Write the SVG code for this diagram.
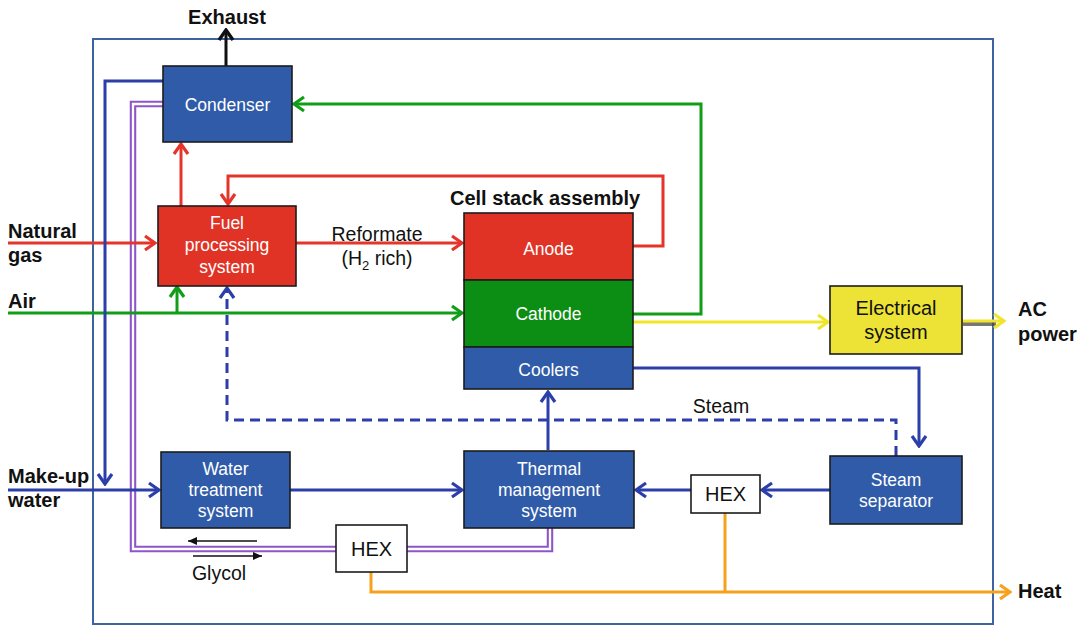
<svg xmlns="http://www.w3.org/2000/svg" width="1090" height="628" viewBox="0 0 1090 628">
  <style>
    .box { stroke: #1c1c1c; stroke-width: 1.6; }
    .blue { fill: #2f5ba9; }
    .red { fill: #e03326; }
    .green { fill: #0b8e13; }
    .yellow { fill: #ece336; }
    .white { fill: #ffffff; }
    .lbl { font-family: "Liberation Sans", Arial, sans-serif; font-size: 17.5px; fill: #ffffff; text-anchor: middle; }
    .lbl-dark { font-family: "Liberation Sans", Arial, sans-serif; font-size: 20px; fill: #111111; text-anchor: middle; }
    .note { font-family: "Liberation Sans", Arial, sans-serif; font-size: 19.5px; fill: #111111; }
    .bold { font-family: "Liberation Sans", Arial, sans-serif; font-size: 20px; font-weight: bold; fill: #111111; }
    .ln { fill: none; stroke-width: 3; }
    .c-red { stroke: #e5352b; }
    .c-green { stroke: #129d18; }
    .c-blue { stroke: #2c3fa8; }
    .c-yellow { stroke: #f0e52a; }
    .c-orange { stroke: #f7a01c; }
    .c-black { stroke: #111111; }
  </style>
  <defs>
    <marker id="ar-red" viewBox="-13 -10 15 20" markerWidth="15" markerHeight="20" refX="0" refY="0" orient="auto" markerUnits="userSpaceOnUse">
      <path d="M-10,-7 L0,0 L-10,7" fill="none" stroke="#e5352b" stroke-width="3.2"/>
    </marker>
    <marker id="ar-green" viewBox="-13 -10 15 20" markerWidth="15" markerHeight="20" refX="0" refY="0" orient="auto" markerUnits="userSpaceOnUse">
      <path d="M-10,-7 L0,0 L-10,7" fill="none" stroke="#129d18" stroke-width="3.2"/>
    </marker>
    <marker id="ar-blue" viewBox="-13 -10 15 20" markerWidth="15" markerHeight="20" refX="0" refY="0" orient="auto" markerUnits="userSpaceOnUse">
      <path d="M-10,-7 L0,0 L-10,7" fill="none" stroke="#2c3fa8" stroke-width="3.2"/>
    </marker>
    <marker id="ar-yellow" viewBox="-13 -10 15 20" markerWidth="15" markerHeight="20" refX="0" refY="0" orient="auto" markerUnits="userSpaceOnUse">
      <path d="M-10,-7 L0,0 L-10,7" fill="none" stroke="#f0e52a" stroke-width="3.2"/>
    </marker>
    <marker id="ar-orange" viewBox="-13 -10 15 20" markerWidth="15" markerHeight="20" refX="0" refY="0" orient="auto" markerUnits="userSpaceOnUse">
      <path d="M-10,-7 L0,0 L-10,7" fill="none" stroke="#f7a01c" stroke-width="3.2"/>
    </marker>
    <marker id="ar-black" viewBox="-13 -10 15 20" markerWidth="15" markerHeight="20" refX="0" refY="0" orient="auto" markerUnits="userSpaceOnUse">
      <path d="M-10,-7 L0,0 L-10,7" fill="none" stroke="#111111" stroke-width="3.4"/>
    </marker>
    <marker id="ar-thin" viewBox="-10 -5 10 10" markerWidth="10" markerHeight="10" refX="0" refY="0" orient="auto" markerUnits="userSpaceOnUse">
      <path d="M-9,-4 L0,0 L-9,4 Z" fill="#111111"/>
    </marker>
  </defs>

  <!-- plant boundary -->
  <rect id="boundary" x="93" y="39" width="900" height="585" fill="none" stroke="#3d63a0" stroke-width="2"/>

  <g id="connectors">
    <!-- glycol loop (double line) -->
    <g fill="none">
      <path d="M163,104 H133 V549 H336" stroke="#8e55c9" stroke-width="6.5"/>
      <path d="M163,104 H133 V549 H336" stroke="#ffffff" stroke-width="2.3"/>
      <path d="M407,549 H550 V528" stroke="#8e55c9" stroke-width="6.5"/>
      <path d="M407,549 H550 V528" stroke="#ffffff" stroke-width="2.3"/>
    </g>
    <!-- fuel / anode -->
    <path class="ln c-red" d="M8,243 H155" marker-end="url(#ar-red)"/>
    <path class="ln c-red" d="M296,243 H462" marker-end="url(#ar-red)"/>
    <path class="ln c-red" d="M633,246 H663 V176 H228 V204" marker-end="url(#ar-red)"/>
    <path class="ln c-red" d="M181,206 V144" marker-end="url(#ar-red)"/>
    <!-- air / cathode -->
    <path class="ln c-green" d="M8,313 H462" marker-end="url(#ar-green)"/>
    <path class="ln c-green" d="M177,313 V287" marker-end="url(#ar-green)"/>
    <path class="ln c-green" d="M633,314 H701 V104 H294" marker-end="url(#ar-green)"/>
    <!-- power -->
    <path class="ln c-yellow" d="M633,322 H828" marker-end="url(#ar-yellow)"/>
    <path d="M963,324 H996" fill="none" stroke="#4a4a4a" stroke-width="4" opacity="0.75"/>
    <path class="ln c-yellow" d="M962,321 H1004" marker-end="url(#ar-yellow)"/>
    <!-- water / steam -->
    <path class="ln c-blue" d="M163,81 H105 V484" marker-end="url(#ar-blue)"/>
    <path class="ln c-blue" d="M8,490 H159" marker-end="url(#ar-blue)"/>
    <path class="ln c-blue" d="M290,490 H462" marker-end="url(#ar-blue)"/>
    <path class="ln c-blue" d="M548,450 V392" marker-end="url(#ar-blue)"/>
    <path class="ln c-blue" d="M633,368 H919 V446" marker-end="url(#ar-blue)"/>
    <path class="ln c-blue" d="M830,490 H762" marker-end="url(#ar-blue)"/>
    <path class="ln c-blue" d="M691,490 H636" marker-end="url(#ar-blue)"/>
    <path class="ln c-blue" d="M896,456 V420 H227 V288" stroke-dasharray="10,6" marker-end="url(#ar-blue)"/>
    <!-- heat -->
    <path class="ln c-orange" d="M371,572 V592 H1010" marker-end="url(#ar-orange)"/>
    <path class="ln c-orange" d="M725,513 V592"/>
    <!-- exhaust -->
    <path class="ln c-black" d="M226,66 V30" marker-end="url(#ar-black)"/>
    <!-- glycol flow direction -->
    <path d="M257,541 H188" fill="none" stroke="#111111" stroke-width="1.5" marker-end="url(#ar-thin)"/>
    <path d="M193,556 H262" fill="none" stroke="#111111" stroke-width="1.5" marker-end="url(#ar-thin)"/>
  </g>

  <g id="condenser">
    <rect class="box blue" x="163" y="66" width="129" height="76"/>
    <text class="lbl" x="227.5" y="111">Condenser</text>
  </g>
  <g id="fuel-processing">
    <rect class="box red" x="158" y="206" width="138" height="80"/>
    <text class="lbl" x="227" y="229">Fuel</text>
    <text class="lbl" x="227" y="251">processing</text>
    <text class="lbl" x="227" y="273">system</text>
  </g>
  <g id="cell-stack">
    <text class="bold" x="450" y="205">Cell stack assembly</text>
    <rect class="box red" x="464" y="213" width="169" height="67"/>
    <text class="lbl" x="548.5" y="255">Anode</text>
    <rect class="box green" x="464" y="280" width="169" height="67"/>
    <text class="lbl" x="548.5" y="320">Cathode</text>
    <rect class="box blue" x="464" y="347" width="169" height="42"/>
    <text class="lbl" x="548.5" y="376">Coolers</text>
  </g>
  <g id="electrical">
    <rect class="box yellow" x="830" y="286" width="132" height="68"/>
    <text class="lbl-dark" x="896" y="315">Electrical</text>
    <text class="lbl-dark" x="896" y="339">system</text>
  </g>
  <g id="water-treatment">
    <rect class="box blue" x="161" y="452" width="129" height="76"/>
    <text class="lbl" x="225.5" y="475">Water</text>
    <text class="lbl" x="225.5" y="496">treatment</text>
    <text class="lbl" x="225.5" y="517">system</text>
  </g>
  <g id="thermal-management">
    <rect class="box blue" x="464" y="451" width="170" height="77"/>
    <text class="lbl" x="549" y="475">Thermal</text>
    <text class="lbl" x="549" y="496">management</text>
    <text class="lbl" x="549" y="517">system</text>
  </g>
  <g id="hex-steam">
    <rect class="box white" x="691" y="475" width="69" height="38"/>
    <text class="lbl-dark" x="725.5" y="501">HEX</text>
  </g>
  <g id="steam-separator">
    <rect class="box blue" x="830" y="456" width="132" height="68"/>
    <text class="lbl" x="896" y="486">Steam</text>
    <text class="lbl" x="896" y="507">separator</text>
  </g>
  <g id="hex-glycol">
    <rect class="box white" x="336" y="525" width="71" height="47"/>
    <text class="lbl-dark" x="371.5" y="556">HEX</text>
  </g>

  <g id="labels">
    <text class="bold" x="227" y="24" text-anchor="middle">Exhaust</text>
    <text class="bold" x="8" y="238">Natural</text>
    <text class="bold" x="8" y="262">gas</text>
    <text class="bold" x="8" y="308">Air</text>
    <text class="bold" x="8" y="483">Make-up</text>
    <text class="bold" x="8" y="507">water</text>
    <text class="bold" x="1018" y="316">AC</text>
    <text class="bold" x="1018" y="341">power</text>
    <text class="bold" x="1018" y="598">Heat</text>
    <text class="note" x="377" y="241" text-anchor="middle">Reformate</text>
    <text class="note" x="377" y="265" text-anchor="middle">(H<tspan font-size="13px" dy="5">2</tspan><tspan dy="-5"> rich)</tspan></text>
    <text class="note" x="721" y="413" text-anchor="middle">Steam</text>
    <text class="note" x="219" y="580" text-anchor="middle">Glycol</text>
  </g>
</svg>
